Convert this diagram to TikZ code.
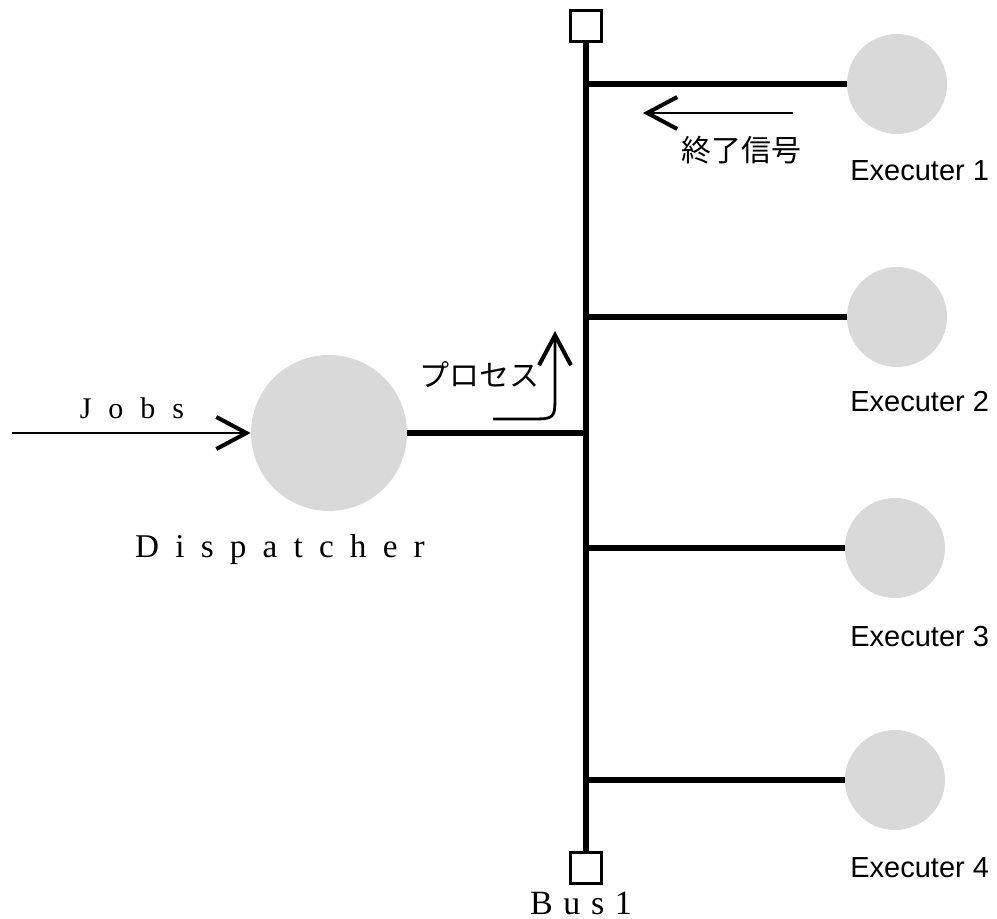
\documentclass[tikz,border=0pt]{standalone}
\usepackage{fontspec}
\setmainfont{Liberation Serif}
\newfontfamily\jpfont{Noto Sans CJK JP}
\newfontfamily\labelfont{Liberation Sans}
\usetikzlibrary{arrows.meta,positioning}

\begin{document}
\begin{tikzpicture}[
        x=0.5pt, y=-0.5pt,
        proc/.style={circle, fill=gray!30, inner sep=0pt},
        bussq/.style={rectangle, draw, line width=1.2pt, fill=white, minimum size=15.5pt, inner sep=0pt},
        busline/.style={line width=3pt},
        flow/.style={-{Straight Barb[length=15pt, width=16pt, line width=2pt]}, line width=1.4pt},
        exelabel/.style={font=\labelfont\fontsize{14.5}{16}\selectfont, anchor=west, inner sep=0pt},
        jplabel/.style={font=\jpfont\fontsize{15}{17}\selectfont, inner sep=0pt}
    ]
        \useasboundingbox (0,0) rectangle (997,919);

        % bus with its two end boxes
        \node [bussq] (bustop) at (586,26) {};
        \node [bussq] (busbot) at (586,868) {};
        \draw [busline] (bustop.south) -- (busbot.north);
        \node [font={\fontsize{17}{19}\selectfont\spaceskip=5.3pt\relax}] (buslabel) at (581,903) {B u s 1};

        % dispatcher
        \node [proc, minimum size=78pt] (disp) at (329,433) {};
        \node [font={\fontsize{16.6}{18}\selectfont\spaceskip=8.1pt\relax}] (displabel) at (280,550) {D i s p a t c h e r};
        \coordinate (jobsin) at (12,433);
        \draw [flow] (jobsin) -- (disp.west);
        \node [font={\fontsize{15}{17}\selectfont\spaceskip=8.5pt\relax}] (jobslabel) at (132,408) {J o b s};
        \draw [busline] (disp.east) -- (disp.east -| bustop);

        % executers
        \node [proc, minimum size=50pt] (exe1) at (897,84) {};
        \node [proc, minimum size=50pt] (exe2) at (897,317) {};
        \node [proc, minimum size=50pt] (exe3) at (895,548) {};
        \node [proc, minimum size=50pt] (exe4) at (895,780) {};
        \foreach \i/\y in {1/171, 2/402, 3/637, 4/868} {
            \draw [busline] (exe\i.west -| bustop) -- (exe\i.west);
            \node [exelabel] (exelabel\i) at (850,\y) {Executer \i};
        }

        % signals
        \coordinate (endfrom) at (793,113);
        \coordinate (endto) at (643,113);
        \draw [flow] (endfrom) -- (endto);
        \node [jplabel] (endlabel) at (741,150) {終了信号};

        \coordinate (procfrom) at (493,419);
        \coordinate (procto) at (555,331);
        \draw [flow] (procfrom) -- (530,419) .. controls (555,419) .. (555,394) -- (procto);
        \node [jplabel] (proclabel) at (479,375) {プロセス};
    \end{tikzpicture}
\end{document}
